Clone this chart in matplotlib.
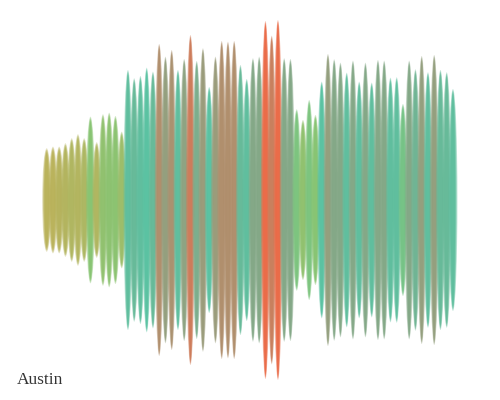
import matplotlib
matplotlib.use("Agg")
import matplotlib.pyplot as plt
from matplotlib.patches import Ellipse
from matplotlib.colors import LinearSegmentedColormap

city = "Austin"

# half-extent of each ellipse (value)
values = [51.7, 53.3, 53.3, 56.7, 61.7, 65.7, 61.7, 83.3, 57.7, 85.7, 87.3, 84.0, 68.3,
          130, 121.7, 124, 132.3, 128.3, 156, 143.3, 150, 130, 141, 165, 139, 151.7, 113,
          143.3, 159, 158.3, 159, 135, 121, 141.7, 143.3, 179, 164.3, 180, 141.7, 141,
          90.7, 80, 100, 85, 118.3, 146, 140.7, 137.3, 127.3, 139.3, 118.3, 137.3,
          117.3, 140, 139.3, 122.3, 122.7, 96, 139.3, 130.7, 144, 127.7, 145, 130, 127.7, 111]

# colour value of each ellipse (0 = olive, 1 = orange)
colour_values = [0.0, 0.0, 0.02, 0.04, 0.06, 0.05, 0.08, 0.30, 0.06, 0.25, 0.27, 0.28, 0.18,
                 0.52, 0.55, 0.52, 0.50, 0.55, 0.80, 0.70, 0.78, 0.52, 0.68, 0.90, 0.62, 0.72, 0.50,
                 0.72, 0.80, 0.80, 0.80, 0.55, 0.52, 0.65, 0.65, 1.0, 0.88, 1.0, 0.65, 0.65,
                 0.35, 0.25, 0.35, 0.30, 0.50, 0.70, 0.65, 0.65, 0.52, 0.65, 0.52, 0.65,
                 0.52, 0.65, 0.65, 0.52, 0.52, 0.38, 0.65, 0.58, 0.70, 0.52, 0.70, 0.55, 0.55, 0.52]

cmap = LinearSegmentedColormap.from_list(
    "austin",
    [(0.0, "#b5ad4f"), (0.3, "#7fc068"), (0.5, "#4cbe9b"), (1.0, "#e9603a")])

fig = plt.figure(figsize=(5, 4), dpi=100)
fig.patch.set_facecolor("white")
ax = fig.add_axes([0, 0, 1, 1])
ax.set_axis_off()

step_px = 6.25
x0_px = 46.7
ax.set_xlim(-x0_px / step_px, (500 - x0_px) / step_px)
ax.set_ylim(-200, 200)

# soft edges: several stacked ellipses of decreasing size
layers = [(1.45, 0.0, 0.35), (1.2, 1.5, 0.45), (0.95, 3.0, 0.5), (0.7, 4.5, 0.55)]
for i, (v, c) in enumerate(zip(values, colour_values)):
    col = cmap(c)
    for w, shrink, a in layers:
        e = Ellipse((i, 0), width=w, height=2 * (v - shrink), facecolor=col,
                    edgecolor="none", alpha=a)
        ax.add_patch(e)

fig.text(17 / 500, 1 - 384 / 400, city, fontsize=12.5, family="Liberation Serif",
         color="#333333", ha="left", va="baseline")

fig.savefig("out.png", dpi=100, facecolor="white")
